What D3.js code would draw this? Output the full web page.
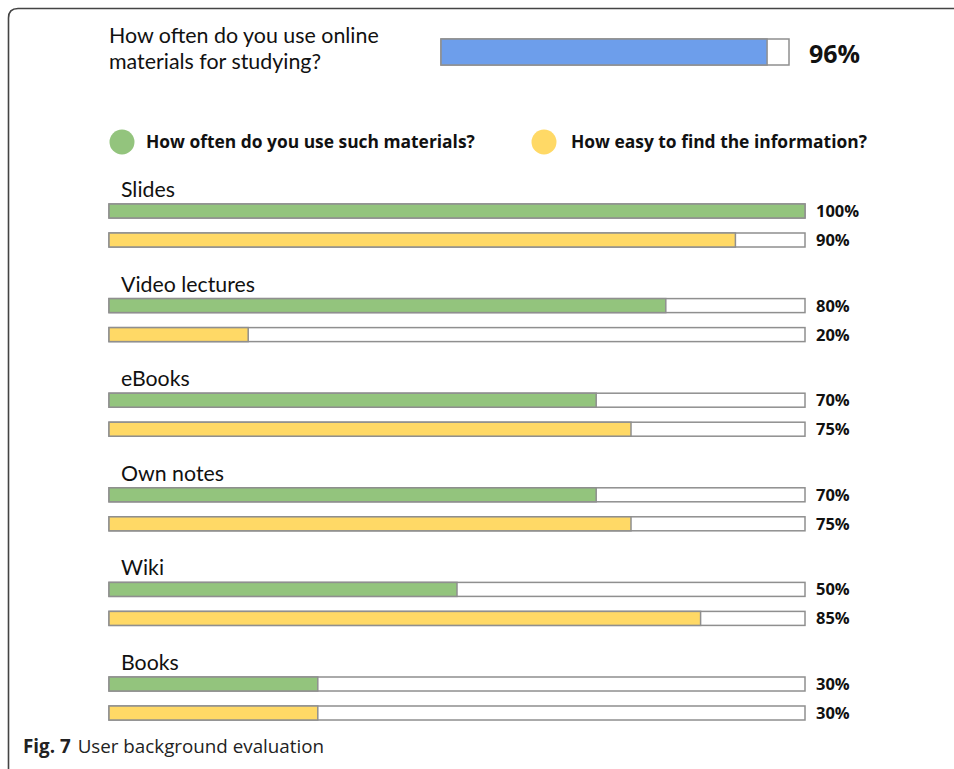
<!DOCTYPE html>
<html>
<head>
<meta charset="utf-8">
<script src="https://cdn.jsdelivr.net/npm/d3@7"></script>
<style>
  body { margin: 0; background: #fff; }
  svg { display: block; }
</style>
</head>
<body>
<div class="chart-wrapper"></div>
<script>
// data
const categories = ['Slides', 'Video lectures', 'eBooks', 'Own notes', 'Wiki', 'Books'];
const useValues = [100, 80, 70, 70, 50, 30];      // How often do you use such materials?
const findValues = [90, 20, 75, 75, 85, 30];      // How easy to find the information?
const onlineValue = 96;
const seriesNames = ['How often do you use such materials?', 'How easy to find the information?'];
const colors = { use: '#93c47d', find: '#ffd966', online: '#6d9eeb', border: '#8f8f8f' };

function drawChart() {
    const dims = { width: 954, height: 769 };

    const svg = d3.select('.chart-wrapper')
        .append('svg')
        .attr('width', dims.width)
        .attr('height', dims.height);

    const font = 'Lato, "Open Sans", sans-serif';
    const boldFont = '"Open Sans", Lato, sans-serif';

    // frame around the figure
    svg.append('path')
        .attr('d', `M8.5,${dims.height} L8.5,18 Q8.5,8.5 18,8.5 L${dims.width},8.5`)
        .attr('fill', 'none')
        .attr('stroke', '#444')
        .attr('stroke-width', 1.6);

    // question at the top
    const title = svg.append('text')
        .attr('x', 109)
        .attr('font-family', font)
        .attr('font-size', 21.4)
        .attr('fill', '#111');
    title.append('tspan').attr('x', 109).attr('y', 43).text('How often do you use online');
    title.append('tspan').attr('x', 109).attr('y', 69).text('materials for studying?');

    const xTop = d3.scaleLinear().domain([0, 100]).range([441, 789]);
    svg.append('rect')
        .attr('x', xTop(0)).attr('y', 39)
        .attr('width', xTop(100) - xTop(0)).attr('height', 26)
        .attr('fill', '#fff')
        .attr('stroke', colors.border).attr('stroke-width', 1.5);
    svg.append('rect')
        .attr('x', xTop(0)).attr('y', 39)
        .attr('width', xTop(onlineValue) - xTop(0) - 8).attr('height', 26)
        .attr('fill', colors.online)
        .attr('stroke', colors.border).attr('stroke-width', 1.5);
    svg.append('text')
        .attr('x', 809).attr('y', 63)
        .attr('font-family', boldFont)
        .attr('font-weight', 'bold')
        .attr('font-size', 25)
        .attr('fill', '#111')
        .text(onlineValue + '%');

    // legend
    const legendX = [122, 544];
    const legendColors = [colors.use, colors.find];
    seriesNames.forEach((name, i) => {
        svg.append('circle')
            .attr('cx', legendX[i]).attr('cy', 142).attr('r', 12.5)
            .attr('fill', legendColors[i]);
        svg.append('text')
            .attr('x', legendX[i] + 24 + (i ? 3 : 0)).attr('y', 148)
            .attr('font-family', boldFont)
            .attr('font-weight', 'bold')
            .attr('font-size', 17.4)
            .attr('fill', '#111')
            .text(name);
    });

    // grouped bars
    const yScale = d3.scaleBand()
        .domain(categories)
        .range([204, 204 + 94.6 * categories.length]);
    const xScale = d3.scaleLinear().domain([0, 100]).range([109, 805]);
    const barH = 14;
    const gap = 29;

    const groups = svg.selectAll('.group')
        .data(categories)
        .join('g')
        .attr('class', 'group')
        .attr('transform', d => `translate(0, ${yScale(d)})`);

    groups.append('text')
        .attr('x', 121).attr('y', -7)
        .attr('font-family', font)
        .attr('font-size', 21.3)
        .attr('fill', '#111')
        .text(d => d);

    const rows = [
        { values: useValues, color: colors.use, dy: 0 },
        { values: findValues, color: colors.find, dy: gap },
    ];

    rows.forEach(r => {
        groups.append('rect')
            .attr('x', xScale(0)).attr('y', r.dy)
            .attr('width', xScale(100) - xScale(0)).attr('height', barH)
            .attr('fill', '#fff')
            .attr('stroke', colors.border).attr('stroke-width', 1.5);
        groups.append('rect')
            .attr('x', xScale(0)).attr('y', r.dy)
            .attr('width', (d, i) => xScale(r.values[i]) - xScale(0)).attr('height', barH)
            .attr('fill', r.color)
            .attr('stroke', colors.border).attr('stroke-width', 1.5);
        groups.append('text')
            .attr('x', 816).attr('y', r.dy + 13)
            .attr('font-family', boldFont)
            .attr('font-weight', 'bold')
            .attr('font-size', 16.5)
            .attr('fill', '#111')
            .text((d, i) => r.values[i] + '%');
    });

    // caption
    const cap = svg.append('text')
        .attr('x', 23).attr('y', 753)
        .attr('font-family', '"Open Sans", sans-serif')
        .attr('font-size', 18.8)
        .attr('fill', '#222');
    cap.append('tspan').attr('font-weight', 'bold').text('Fig. 7');
    cap.append('tspan').attr('dx', 7).text('User background evaluation');
}

drawChart();
</script>
</body>
</html>
